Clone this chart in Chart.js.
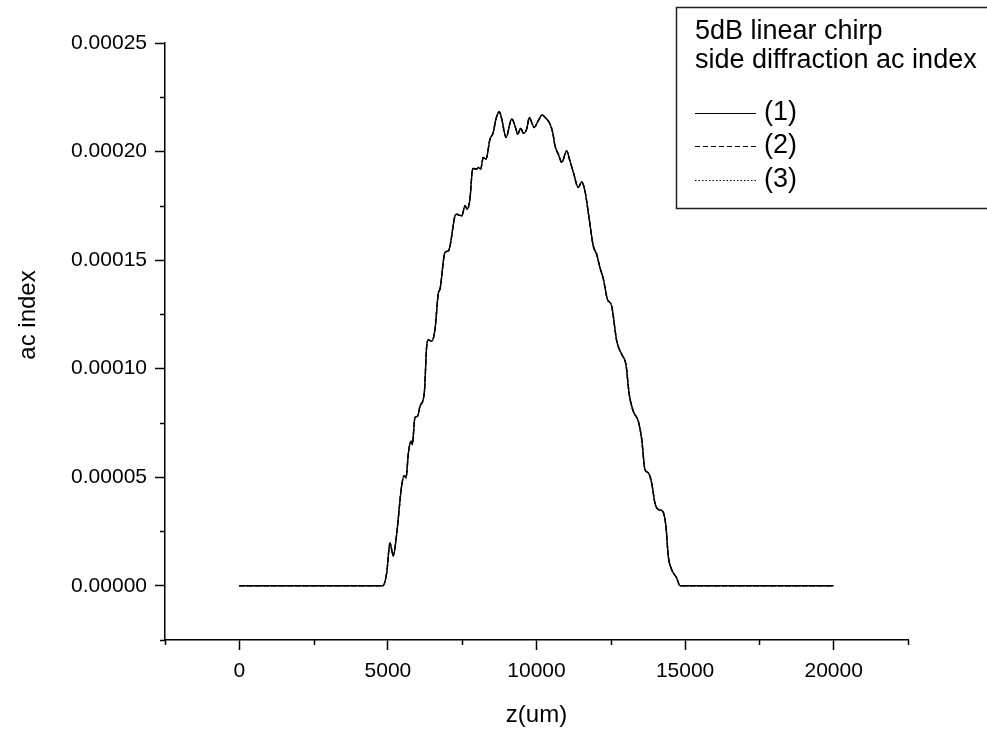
<!DOCTYPE html>
<html>
<head>
<meta charset="utf-8">
<script src="https://cdn.jsdelivr.net/npm/chart.js@4.4.1/dist/chart.umd.min.js"></script>
<style>
  html, body { margin: 0; padding: 0; background: #fff; }
  #wrap { width: 987px; height: 737px; }
</style>
</head>
<body>
<div id="wrap"><canvas id="chart" width="987" height="737"></canvas></div>
<script>
// position along the grating (um) and the ac index
const zPositions = [
    0, 4830, 4960, 5070, 5180, 5300, 5460, 5550, 5610, 5690, 5780, 5820, 5910, 6000, 6080,
    6225, 6305, 6360, 6475, 6585, 6700, 6750, 6920, 7030, 7090, 7260, 7315, 7485, 7595, 7670,
    7760, 7855, 7990, 8040, 8120, 8210, 8300, 8435, 8545, 8635, 8750, 8830, 8975, 9165, 9310,
    9365, 9470, 9555, 9670, 9760, 9840, 9915, 10060, 10185, 10320, 10455, 10545, 10620, 10735, 10850,
    11015, 11125, 11240, 11405, 11520, 11630, 11775, 11910, 12025, 12135, 12250, 12385, 12415, 12530, 12700,
    12865, 13010, 13120, 13255, 13425, 13540, 13650, 13760, 13875, 13985, 14100, 14245, 14355, 14435, 14550,
    14715, 14830, 20000
];
const acIndex = [
    0, 0, 0.0000059, 0.0000197, 0.0000138, 0.0000244, 0.0000458, 0.0000507, 0.0000497, 0.0000612, 0.0000666, 0.0000650, 0.0000774, 0.0000781, 0.0000827,
    0.0000889, 0.0001104, 0.0001132, 0.0001127, 0.0001181, 0.0001350, 0.0001365, 0.0001535, 0.0001542, 0.0001565, 0.0001704, 0.0001711, 0.0001704, 0.0001750, 0.0001734,
    0.0001781, 0.0001922, 0.0001919, 0.0001927, 0.0001919, 0.0001973, 0.0001965, 0.0002057, 0.0002088, 0.0002150, 0.0002183, 0.0002150, 0.0002065, 0.0002150, 0.0002104,
    0.0002080, 0.0002107, 0.0002084, 0.0002104, 0.0002157, 0.0002134, 0.0002111, 0.0002142, 0.0002168, 0.0002153, 0.0002127, 0.0002088, 0.0002027, 0.0001988, 0.0001950,
    0.0002003, 0.0001957, 0.0001904, 0.0001835, 0.0001860, 0.0001819, 0.0001688, 0.0001565, 0.0001527, 0.0001465, 0.0001412, 0.0001319, 0.0001312, 0.0001288, 0.0001127,
    0.0001066, 0.0001019, 0.0000881, 0.0000804, 0.0000758, 0.0000674, 0.0000535, 0.0000520, 0.0000474, 0.0000381, 0.0000351, 0.0000343, 0.0000274, 0.0000135, 0.0000074,
    0.0000036, 0, 0
];

const seriesLabels = ['(1)', '(2)', '(3)'];
const seriesDashes = [[], [5, 3], [1.5, 2]];
const legendTitle = ['5dB linear chirp', 'side diffraction ac index'];

const xTicks = [0, 5000, 10000, 15000, 20000];
const xMinorTicks = [-2500, 2500, 7500, 12500, 17500, 22500];
const yTicks = [0, 0.00005, 0.0001, 0.00015, 0.0002, 0.00025];
const yMinorTicks = [-0.000025, 0.000025, 0.000075, 0.000125, 0.000175, 0.000225];

const FONT = 'Arial, "Liberation Sans", sans-serif';

// the three curves lie on top of each other at this scale
const points = zPositions.map((z, i) => ({ x: z, y: acIndex[i] }));

// small outward minor ticks like the original plot
const minorTicks = {
    id: 'minorTicks',
    afterDraw(chart) {
        const { ctx, scales: { x, y } } = chart;
        ctx.save();
        ctx.strokeStyle = '#000';
        ctx.lineWidth = 1.5;
        ctx.beginPath();
        xMinorTicks.forEach(v => {
            const px = Math.round(x.getPixelForValue(v)) + 0.5;
            ctx.moveTo(px, x.top);
            ctx.lineTo(px, x.top + 5);
        });
        yMinorTicks.forEach(v => {
            const py = Math.round(y.getPixelForValue(v)) + 0.5;
            ctx.moveTo(y.right, py);
            ctx.lineTo(y.right - 5, py);
        });
        ctx.stroke();
        ctx.restore();
    }
};

// boxed legend in the top-right corner, plus the y axis title
const boxLegend = {
    id: 'boxLegend',
    afterDraw(chart) {
        const ctx = chart.ctx;
        ctx.save();
        ctx.strokeStyle = '#222';
        ctx.lineWidth = 1.5;
        ctx.strokeRect(676.5, 7.5, 340, 201);

        ctx.fillStyle = '#000';
        ctx.font = '27px ' + FONT;
        ctx.textBaseline = 'middle';
        ctx.textAlign = 'left';
        const rows = [32, 61, 113, 146, 180];
        legendTitle.forEach((t, i) => ctx.fillText(t, 695, rows[i]));
        chart.data.datasets.forEach((ds, i) => {
            const yy = rows[legendTitle.length + i];
            ctx.beginPath();
            ctx.setLineDash(ds.borderDash);
            ctx.lineWidth = 1;
            ctx.strokeStyle = '#000';
            ctx.moveTo(695, yy + 0.5);
            ctx.lineTo(756, yy + 0.5);
            ctx.stroke();
            ctx.setLineDash([]);
            ctx.fillText(ds.label, 764, yy);
        });

        ctx.translate(28, 315);
        ctx.rotate(-Math.PI / 2);
        ctx.textAlign = 'center';
        ctx.font = '24px ' + FONT;
        ctx.fillText('ac index', 0, 0);
        ctx.restore();
    }
};

const ctx = document.getElementById('chart').getContext('2d');
const chart = new Chart(ctx, {
    type: 'line',
    data: {
        datasets: seriesLabels.map((label, i) => ({
            label: label,
            data: points,
            borderColor: '#000',
            borderWidth: 1.4,
            borderDash: seriesDashes[i],
            pointRadius: 0,
            cubicInterpolationMode: 'monotone',
            fill: false
        }))
    },
    options: {
        responsive: false,
        animation: false,
        layout: { padding: { left: 0, top: 43, right: 79, bottom: 0 } },
        plugins: {
            legend: { display: false },
            tooltip: { enabled: false }
        },
        scales: {
            x: {
                type: 'linear',
                min: -2500,
                max: 22500,
                afterBuildTicks: s => { s.ticks = xTicks.map(v => ({ value: v })); },
                afterFit: s => { s.height = 97; },
                border: { display: true, color: '#000', width: 1.5 },
                grid: { drawOnChartArea: false, drawTicks: true, tickLength: 10, tickColor: '#000', tickWidth: 1.5 },
                ticks: {
                    color: '#000',
                    padding: 9,
                    maxRotation: 0,
                    font: { family: FONT, size: 21 },
                    callback: v => String(v)
                },
                title: {
                    display: true,
                    text: 'z(um)',
                    color: '#000',
                    font: { family: FONT, size: 24 },
                    padding: { top: 0, bottom: 7 }
                }
            },
            y: {
                type: 'linear',
                min: -0.000025,
                max: 0.00025,
                afterBuildTicks: s => { s.ticks = yTicks.map(v => ({ value: v })); },
                afterFit: s => { s.width = 165; },
                border: { display: true, color: '#000', width: 1.5 },
                grid: { drawOnChartArea: false, drawTicks: true, tickLength: 10, tickColor: '#000', tickWidth: 1.5 },
                ticks: {
                    color: '#000',
                    padding: 8,
                    font: { family: FONT, size: 21 },
                    callback: v => v.toFixed(5)
                }
            }
        }
    },
    plugins: [minorTicks, boxLegend]
});
</script>
</body>
</html>
